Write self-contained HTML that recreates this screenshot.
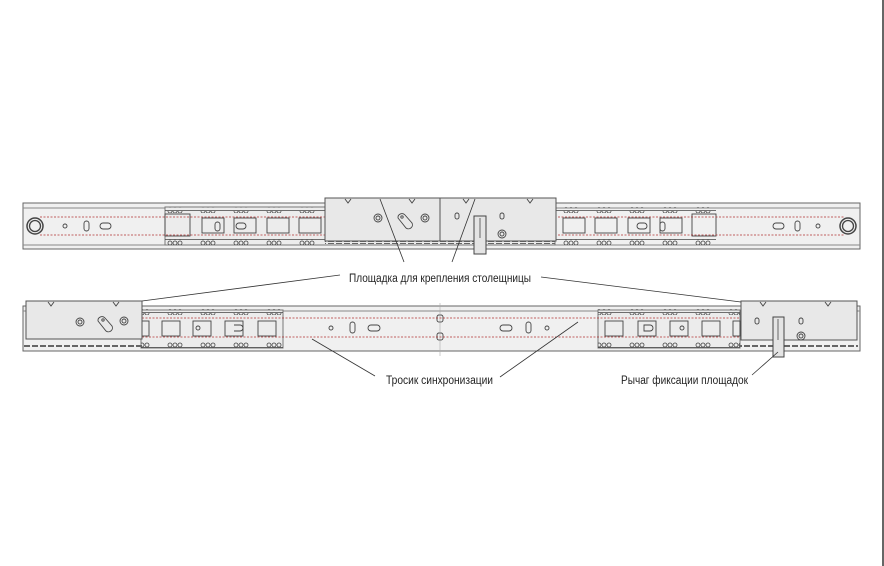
<!DOCTYPE html>
<html><head><meta charset="utf-8"><style>html,body{margin:0;padding:0;background:#fff}svg{display:block}</style></head><body>
<svg width="884" height="566" viewBox="0 0 884 566" xmlns="http://www.w3.org/2000/svg">
<defs>
<pattern id="ballsT" x="0" y="0" width="33" height="6" patternUnits="userSpaceOnUse">
<path d="M3 1 a2 2 0 0 0 4 0 M8 1 a2 2 0 0 0 4 0 M13 1 a2 2 0 0 0 4 0" fill="none" stroke="#444" stroke-width="0.8"/>
<line x1="0" y1="0.5" x2="33" y2="0.5" stroke="#444" stroke-width="0.8"/>
</pattern>
<pattern id="ballsB" x="0" y="0" width="33" height="6" patternUnits="userSpaceOnUse">
<circle cx="5" cy="3" r="2" fill="none" stroke="#444" stroke-width="0.8"/>
<circle cx="10" cy="3" r="2" fill="none" stroke="#444" stroke-width="0.8"/>
<circle cx="15" cy="3" r="2" fill="none" stroke="#444" stroke-width="0.8"/>
<line x1="0" y1="5.5" x2="33" y2="5.5" stroke="#444" stroke-width="0.8"/>
</pattern>
<pattern id="dash" x="0" y="0" width="8" height="3" patternUnits="userSpaceOnUse">
<rect width="6" height="2" fill="#666"/>
</pattern>
</defs>
<line x1="883" y1="0" x2="883" y2="566" stroke="#333" stroke-width="1.5"/>

<!-- TOP RAIL -->
<rect x="23" y="203" width="837" height="46" fill="#f0f0f0" stroke="#666"/>
<line x1="23" y1="208" x2="860" y2="208" stroke="#888"/>
<line x1="23" y1="245" x2="860" y2="245" stroke="#888"/>
<rect x="165" y="207" width="390" height="38" fill="#ececec" stroke="#777"/>
<rect x="165" y="207" width="160" height="6" fill="url(#ballsT)"/>
<rect x="556" y="207" width="160" height="6" fill="url(#ballsT)"/>
<rect x="165" y="239" width="160" height="6" fill="url(#ballsB)"/>
<rect x="556" y="239" width="160" height="6" fill="url(#ballsB)"/>
<rect x="325" y="241" width="230" height="3" fill="url(#dash)"/>
<g fill="none" stroke="#444" stroke-width="0.9">
<rect x="202" y="218" width="22" height="15"/><rect x="234" y="218" width="22" height="15"/><rect x="267" y="218" width="22" height="15"/><rect x="299" y="218" width="22" height="15"/>
<rect x="563" y="218" width="22" height="15"/><rect x="595" y="218" width="22" height="15"/><rect x="628" y="218" width="22" height="15"/><rect x="660" y="218" width="22" height="15"/>
<rect x="165" y="214" width="25" height="22"/><rect x="692" y="214" width="24" height="22"/>
<rect x="215" y="222" width="5" height="9" rx="2.5"/><rect x="236" y="223" width="10" height="6" rx="3"/>
<rect x="637" y="223" width="10" height="6" rx="3"/><rect x="660" y="222" width="5" height="9" rx="2.5"/>
<circle cx="35" cy="226" r="8" stroke-width="1.5"/><circle cx="35" cy="226" r="5.5" stroke-width="1.3"/>
<circle cx="848" cy="226" r="8" stroke-width="1.5"/><circle cx="848" cy="226" r="5.5" stroke-width="1.3"/>
<circle cx="65" cy="226" r="2"/><rect x="84" y="221" width="5" height="10" rx="2.5"/><rect x="100" y="223" width="11" height="6" rx="3"/>
<circle cx="818" cy="226" r="2"/><rect x="795" y="221" width="5" height="10" rx="2.5"/><rect x="773" y="223" width="11" height="6" rx="3"/>
</g>
<g stroke="#b03030" stroke-width="0.8" stroke-dasharray="2,1.5">
<line x1="40" y1="217" x2="845" y2="217"/><line x1="40" y1="235" x2="845" y2="235"/>
</g>
<!-- top pads -->
<rect x="325" y="198" width="115" height="43" fill="#e8e8e8" stroke="#555"/>
<rect x="440" y="198" width="116" height="43" fill="#e8e8e8" stroke="#555"/>
<g fill="none" stroke="#444" stroke-width="0.9">
<path d="M345 199 l3 4 l3 -4"/><path d="M409 199 l3 4 l3 -4"/><path d="M463 199 l3 4 l3 -4"/><path d="M527 199 l3 4 l3 -4"/>
<circle cx="378" cy="218" r="4"/><circle cx="378" cy="218" r="2"/>
<circle cx="425" cy="218" r="4"/><circle cx="425" cy="218" r="2"/>
<path d="M398 218 a4 4 0 0 1 7 -3 l7 8 a4 4 0 0 1 -6 5 z"/><circle cx="402" cy="217" r="1.2"/>
<rect x="455" y="213" width="4" height="6" rx="2"/><rect x="500" y="213" width="4" height="6" rx="2"/>
<circle cx="502" cy="234" r="4"/><circle cx="502" cy="234" r="2"/>
</g>
<rect x="474" y="216" width="12" height="38" fill="#e4e4e4" stroke="#444"/>
<line x1="480" y1="218" x2="480" y2="238" stroke="#666"/>

<!-- BOTTOM RAIL -->
<rect x="23" y="306" width="837" height="45" fill="#f0f0f0" stroke="#666"/>
<line x1="23" y1="311" x2="860" y2="311" stroke="#888"/>
<rect x="141" y="310" width="142" height="38" fill="#ececec" stroke="#777"/>
<rect x="598" y="310" width="142" height="38" fill="#ececec" stroke="#777"/>
<rect x="141" y="309" width="142" height="6" fill="url(#ballsT)"/>
<rect x="598" y="309" width="142" height="6" fill="url(#ballsT)"/>
<rect x="141" y="342" width="142" height="6" fill="url(#ballsB)"/>
<rect x="598" y="342" width="142" height="6" fill="url(#ballsB)"/>
<rect x="24" y="344" width="118" height="3" fill="url(#dash)"/>
<rect x="740" y="344" width="118" height="3" fill="url(#dash)"/>
<g fill="none" stroke="#444" stroke-width="0.9">
<rect x="142" y="321" width="7" height="15"/><rect x="162" y="321" width="18" height="15"/><rect x="193" y="321" width="18" height="15"/><rect x="225" y="321" width="18" height="15"/><rect x="258" y="321" width="18" height="15"/>
<circle cx="198" cy="328" r="2"/><path d="M234 325 h6 a3 3 0 0 1 0 6 h-6"/>
<rect x="605" y="321" width="18" height="15"/><rect x="638" y="321" width="18" height="15"/><rect x="670" y="321" width="18" height="15"/><rect x="702" y="321" width="18" height="15"/><rect x="733" y="321" width="7" height="15"/>
<circle cx="682" cy="328" r="2"/><path d="M650 325 h-6 v6 h6 a3 3 0 0 0 0 -6"/>
<circle cx="331" cy="328" r="2"/><rect x="350" y="322" width="5" height="11" rx="2.5"/><rect x="368" y="325" width="12" height="6" rx="3"/>
<circle cx="547" cy="328" r="2"/><rect x="526" y="322" width="5" height="11" rx="2.5"/><rect x="500" y="325" width="12" height="6" rx="3"/>
<rect x="437" y="315" width="6" height="7" rx="2"/><rect x="437" y="333" width="6" height="7" rx="2"/>
</g>
<line x1="440" y1="303" x2="440" y2="356" stroke="#aaa" stroke-width="0.6"/>
<g stroke="#b03030" stroke-width="0.8" stroke-dasharray="2,1.5">
<line x1="142" y1="318" x2="740" y2="318"/><line x1="142" y1="337" x2="740" y2="337"/>
</g>
<!-- bottom pads -->
<rect x="26" y="301" width="116" height="38" fill="#e8e8e8" stroke="#555"/>
<rect x="741" y="301" width="116" height="39" fill="#e8e8e8" stroke="#555"/>
<g fill="none" stroke="#444" stroke-width="0.9">
<path d="M48 302 l3 4 l3 -4"/><path d="M113 302 l3 4 l3 -4"/><path d="M760 302 l3 4 l3 -4"/><path d="M825 302 l3 4 l3 -4"/>
<circle cx="80" cy="322" r="4"/><circle cx="80" cy="322" r="2"/>
<circle cx="124" cy="321" r="4"/><circle cx="124" cy="321" r="2"/>
<path d="M98 321 a4 4 0 0 1 7 -3 l7 8 a4 4 0 0 1 -6 5 z"/><circle cx="103" cy="320" r="1.2"/>
<rect x="755" y="318" width="4" height="6" rx="2"/><rect x="799" y="318" width="4" height="6" rx="2"/>
<circle cx="801" cy="336" r="4"/><circle cx="801" cy="336" r="2"/>
</g>
<rect x="773" y="317" width="11" height="40" fill="#e4e4e4" stroke="#444"/>
<line x1="778" y1="319" x2="778" y2="340" stroke="#666"/>

<!-- leaders -->
<g stroke="#333" stroke-width="0.8">
<line x1="340" y1="275" x2="142" y2="301"/>
<line x1="541" y1="277" x2="741" y2="302"/>
<line x1="404" y1="262" x2="380" y2="199"/>
<line x1="452" y1="262" x2="475" y2="199"/>
<line x1="375" y1="376" x2="312" y2="339"/>
<line x1="500" y1="377" x2="578" y2="322"/>
<line x1="752" y1="375" x2="778" y2="352"/>
</g>
<g font-family="'Liberation Sans Narrow','Liberation Sans','DejaVu Sans',sans-serif" font-size="11.5" fill="#222">
<text x="349" y="282" textLength="182" lengthAdjust="spacingAndGlyphs">Площадка для крепления столещницы</text>
<text x="386" y="384" textLength="107" lengthAdjust="spacingAndGlyphs">Тросик синхронизации</text>
<text x="621" y="384" textLength="127" lengthAdjust="spacingAndGlyphs">Рычаг фиксации площадок</text>
</g>
</svg>
</body></html>
